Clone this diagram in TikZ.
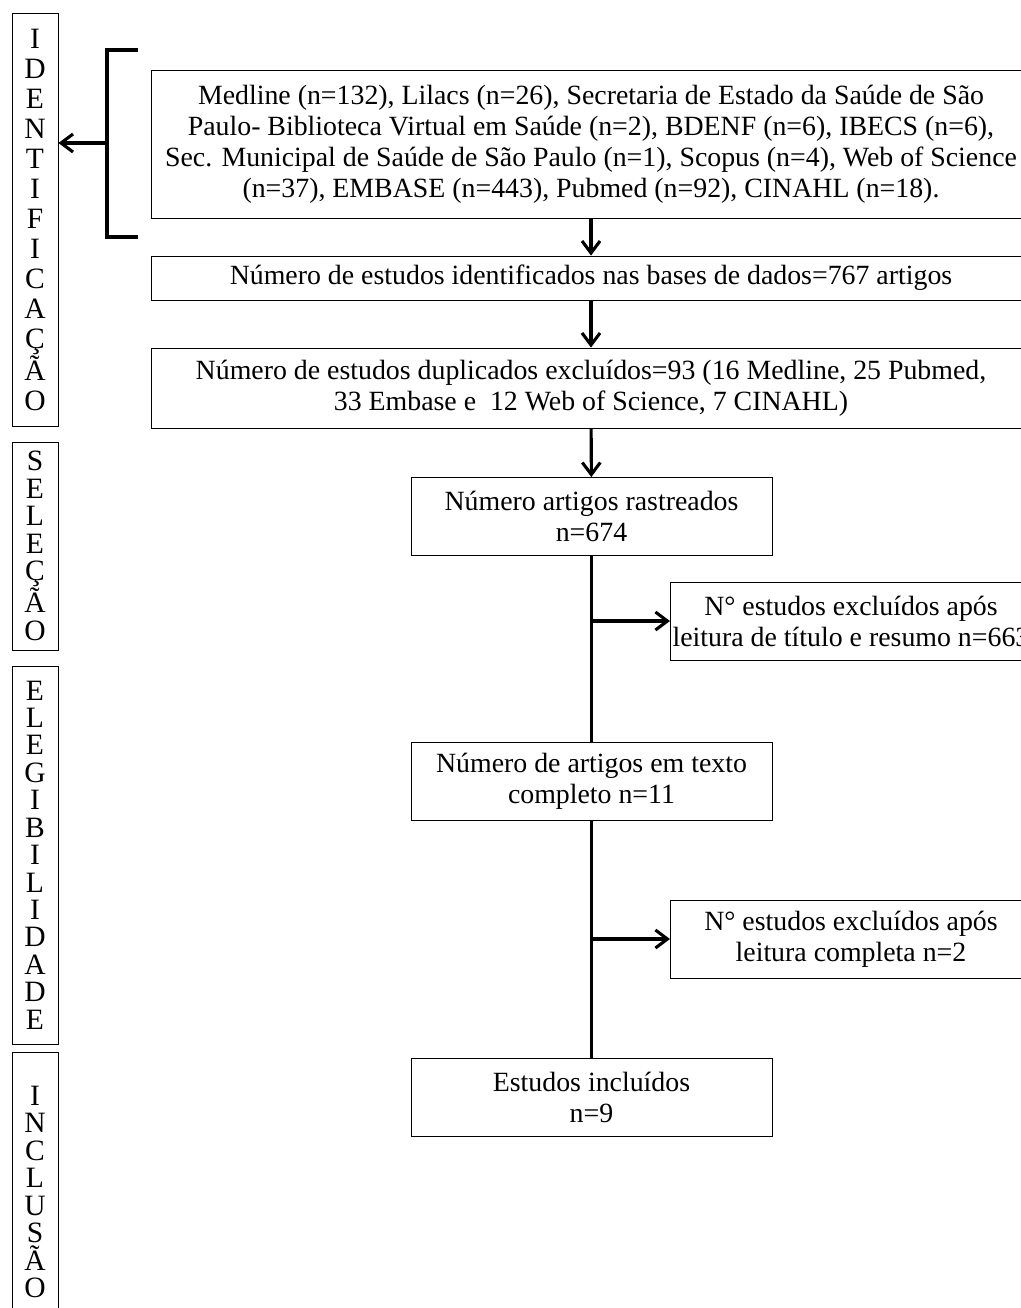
\documentclass[tikz,border=0pt]{standalone}
\usepackage{fontspec}
\setmainfont{Liberation Serif}
\usetikzlibrary{positioning,arrows.meta}

\tikzset{
  box/.style={draw, line width=0.6pt, align=center, inner sep=0pt,
    font=\fontsize{19.8}{22}\selectfont},
  bigbox/.style={box, minimum width=21.95cm},
  smallbox/.style={box, minimum width=9.025cm, minimum height=1.95cm},
  stagebox/.style={draw, line width=0.6pt, align=center, inner sep=0pt,
    minimum width=1.15cm, font=\fontsize{21}{19.5}\selectfont},
  flow/.style={line width=2.2pt},
  arr/.style={flow, -{Straight Barb[length=0.3cm,width=0.45cm]}}
}

\begin{document}
\begin{tikzpicture}[x=0.025cm, y=-0.025cm]
\useasboundingbox (0,0) rectangle (1020,1308);

\node[stagebox, minimum height=10.325cm, font=\fontsize{21}{21.3}\selectfont] (ident) at (35,220)
  {I\\D\\E\\N\\T\\I\\F\\I\\C\\A\\Ç\\Ã\\O};
\node[stagebox, minimum height=5.2cm] (selec) at (35,546) {S\\E\\L\\E\\Ç\\Ã\\O};
\node[stagebox, minimum height=9.45cm] (elegi) at (35,855)
  {E\\L\\E\\G\\I\\B\\I\\L\\I\\D\\A\\D\\E};
\node[stagebox, minimum height=7cm] (inclu) at (35,1192) {I\\N\\C\\L\\U\\S\\Ã\\O};

\node[bigbox, minimum height=3.7cm] (bases) at (591,144)
  {Medline (n=132), Lilacs (n=26), Secretaria de Estado da Saúde de São\\
   Paulo- Biblioteca Virtual em Saúde (n=2), BDENF (n=6), IBECS (n=6),\\
   Sec. Municipal de Saúde de São Paulo (n=1), Scopus (n=4), Web of Science\\
   (n=37), EMBASE (n=443), Pubmed (n=92), CINAHL (n=18).};
\node[bigbox, minimum height=1.1cm] (ident767) at (591,278)
  {Número de estudos identificados nas bases de dados=767 artigos};
\node[bigbox, minimum height=2cm] (dupl) at (591,388)
  {Número de estudos duplicados excluídos=93 (16 Medline, 25 Pubmed,\\
   33 Embase e\ \ 12 Web of Science, 7 CINAHL)};
\node[smallbox] (rastr) at (591.5,516.5) {Número artigos rastreados\\n=674};
\node[smallbox] (compl) at (591.5,781) {Número de artigos em texto\\completo n=11};
\node[smallbox] (inclui) at (591.5,1097) {Estudos incluídos\\n=9};
\node[smallbox, anchor=west] (excl1) at (670,621)
  {N° estudos excluídos após\\leitura de título e resumo n=663};
\node[smallbox, anchor=west] (excl2) at (670,939)
  {N° estudos excluídos após\\leitura completa n=2};

\coordinate (brtop) at (138,50);
\coordinate (brbot) at (138,237);
\coordinate (brmid) at (107,143);
\draw[flow] (brtop) -| (brmid) |- (brbot);
\draw[arr] (brmid) -- (brmid -| ident.east);

\draw[arr] (bases) -- (ident767);
\draw[arr] (ident767) -- (dupl);
\draw[arr] (dupl) -- (rastr);
\draw[flow] (rastr) -- (compl);
\draw[flow] (compl) -- (inclui);
\draw[arr] (rastr.south |- excl1.west) -- (excl1.west);
\draw[arr] (compl.south |- excl2.west) -- (excl2.west);
\end{tikzpicture}
\end{document}
